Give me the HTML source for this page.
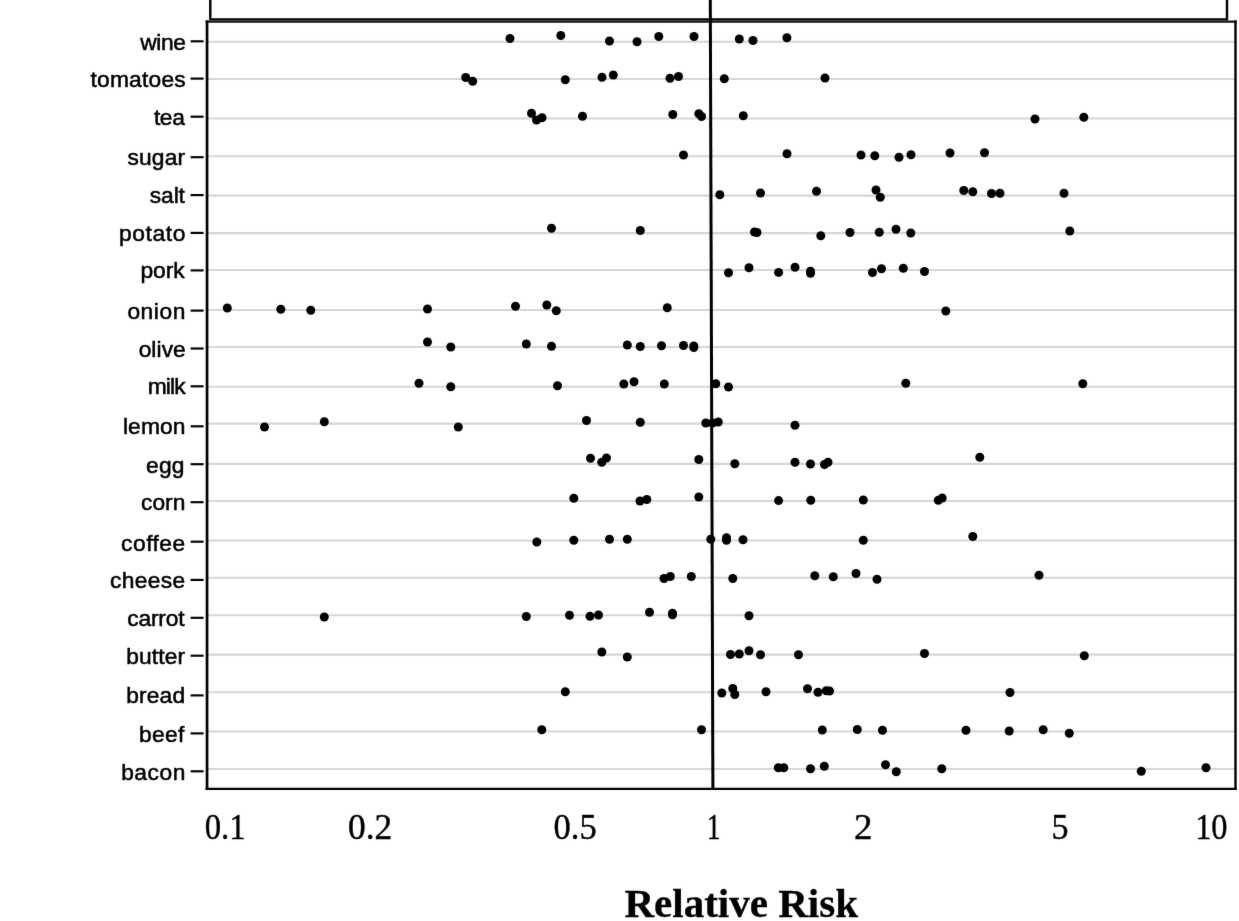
<!DOCTYPE html>
<html lang="en"><head><meta charset="utf-8"><title>Relative Risk</title>
<style>
html,body{margin:0;padding:0;background:#fff;}
body{width:1239px;height:921px;overflow:hidden;}
svg{display:block;}
.yl{font-family:"Liberation Sans",Arial,Helvetica,sans-serif;font-size:21.5px;fill:#000;stroke:#000;stroke-width:0.5px;stroke-linejoin:round;}
.xl{font-family:"Liberation Serif","Times New Roman",serif;font-size:35.5px;fill:#000;stroke:#000;stroke-width:0.4px;}
.ttl{font-family:"Liberation Serif","Times New Roman",serif;font-weight:bold;font-size:41px;fill:#000;stroke:#000;stroke-width:0.3px;}
</style></head>
<body>
<svg width="1239" height="921" viewBox="0 0 1239 921">
<rect x="0" y="0" width="1239" height="921" fill="#fff"/>
<defs><filter id="soft" x="0" y="0" width="1239" height="921" filterUnits="userSpaceOnUse" color-interpolation-filters="sRGB"><feConvolveMatrix order="3" kernelMatrix="0.0052 0.0619 0.0052 0.0619 0.7314 0.0619 0.0052 0.0619 0.0052" divisor="1" edgeMode="duplicate" preserveAlpha="true"/></filter></defs>
<g id="plot" filter="url(#soft)">
<rect x="-10" y="-10" width="1259" height="941" fill="#fff"/>
<g stroke="#d6d6d6" stroke-width="2.1">
<line x1="208" y1="41.8" x2="1235" y2="41.8"/>
<line x1="208" y1="79" x2="1235" y2="79"/>
<line x1="208" y1="118.5" x2="1235" y2="118.5"/>
<line x1="208" y1="156.3" x2="1235" y2="156.3"/>
<line x1="208" y1="195.6" x2="1235" y2="195.6"/>
<line x1="208" y1="233.1" x2="1235" y2="233.1"/>
<line x1="208" y1="270" x2="1235" y2="270"/>
<line x1="208" y1="310" x2="1235" y2="310"/>
<line x1="208" y1="347" x2="1235" y2="347"/>
<line x1="208" y1="386.8" x2="1235" y2="386.8"/>
<line x1="208" y1="423.6" x2="1235" y2="423.6"/>
<line x1="208" y1="463.9" x2="1235" y2="463.9"/>
<line x1="208" y1="501" x2="1235" y2="501"/>
<line x1="208" y1="540.5" x2="1235" y2="540.5"/>
<line x1="208" y1="577.8" x2="1235" y2="577.8"/>
<line x1="208" y1="615.3" x2="1235" y2="615.3"/>
<line x1="208" y1="654.6" x2="1235" y2="654.6"/>
<line x1="208" y1="692.2" x2="1235" y2="692.2"/>
<line x1="208" y1="731.5" x2="1235" y2="731.5"/>
<line x1="208" y1="769" x2="1235" y2="769"/>
</g>
<g fill="none" stroke="#000">
<path d="M210.3 -6 V19.4 H1227 V-6" stroke-width="2.4"/>
<line x1="205.6" y1="21.6" x2="1236.7" y2="21.6" stroke-width="2.4" stroke="#161616"/>
<line x1="207.05" y1="20.4" x2="207.05" y2="789.9" stroke-width="2.7"/>
<line x1="1235.5" y1="20.4" x2="1235.5" y2="789.9" stroke-width="2.4"/>
<line x1="205.6" y1="788.95" x2="1236.7" y2="788.95" stroke-width="2.3"/>
<line x1="710.28" y1="-6" x2="712.9" y2="789" stroke-width="3"/>
</g>
<g stroke="#000" stroke-width="2.15">
<line x1="190.6" y1="41.3" x2="203.6" y2="41.3"/>
<line x1="190.6" y1="78.6" x2="203.6" y2="78.6"/>
<line x1="190.6" y1="116.7" x2="203.6" y2="116.7"/>
<line x1="190.6" y1="157.2" x2="203.6" y2="157.2"/>
<line x1="190.6" y1="195.1" x2="203.6" y2="195.1"/>
<line x1="190.6" y1="232.9" x2="203.6" y2="232.9"/>
<line x1="190.6" y1="270.4" x2="203.6" y2="270.4"/>
<line x1="190.6" y1="310.6" x2="203.6" y2="310.6"/>
<line x1="190.6" y1="348.5" x2="203.6" y2="348.5"/>
<line x1="190.6" y1="386.3" x2="203.6" y2="386.3"/>
<line x1="190.6" y1="426.3" x2="203.6" y2="426.3"/>
<line x1="190.6" y1="464.2" x2="203.6" y2="464.2"/>
<line x1="190.6" y1="502.2" x2="203.6" y2="502.2"/>
<line x1="190.6" y1="541.7" x2="203.6" y2="541.7"/>
<line x1="190.6" y1="579.9" x2="203.6" y2="579.9"/>
<line x1="190.6" y1="617.8" x2="203.6" y2="617.8"/>
<line x1="190.6" y1="655.7" x2="203.6" y2="655.7"/>
<line x1="190.6" y1="695.4" x2="203.6" y2="695.4"/>
<line x1="190.6" y1="733.4" x2="203.6" y2="733.4"/>
<line x1="190.6" y1="771.3" x2="203.6" y2="771.3"/>
</g>
<g class="yl">
<text transform="translate(140.22 50.0) scale(1.06 1)" letter-spacing="-0.389">wine</text>
<text transform="translate(90.50 86.9) scale(1.06 1)" letter-spacing="0.203">tomatoes</text>
<text transform="translate(153.88 124.7) scale(1.06 1)" letter-spacing="-0.321">tea</text>
<text transform="translate(127.47 164.6) scale(1.06 1)" letter-spacing="0.159">sugar</text>
<text transform="translate(149.85 202.8) scale(1.06 1)" letter-spacing="-0.115">salt</text>
<text transform="translate(118.92 240.7) scale(1.06 1)" letter-spacing="0.581">potato</text>
<text transform="translate(140.50 278.1) scale(1.06 1)" letter-spacing="-0.043">pork</text>
<text transform="translate(127.38 318.8) scale(1.06 1)" letter-spacing="0.542">onion</text>
<text transform="translate(138.63 357.0) scale(1.06 1)" letter-spacing="0.069">olive</text>
<text transform="translate(147.76 394.0) scale(1.06 1)" letter-spacing="-0.834">milk</text>
<text transform="translate(122.93 434.4) scale(1.06 1)" letter-spacing="0.126">lemon</text>
<text transform="translate(146.05 472.5) scale(1.06 1)" letter-spacing="0.194">egg</text>
<text transform="translate(141.04 509.9) scale(1.06 1)" letter-spacing="0.008">corn</text>
<text transform="translate(121.12 550.7) scale(1.06 1)" letter-spacing="0.459">coffee</text>
<text transform="translate(110.04 587.5) scale(1.06 1)" letter-spacing="0.326">cheese</text>
<text transform="translate(127.37 625.6) scale(1.06 1)" letter-spacing="-0.203">carrot</text>
<text transform="translate(126.14 663.7) scale(1.06 1)" letter-spacing="0.131">butter</text>
<text transform="translate(126.14 702.9) scale(1.06 1)" letter-spacing="0.160">bread</text>
<text transform="translate(138.89 741.5) scale(1.06 1)" letter-spacing="0.315">beef</text>
<text transform="translate(121.14 779.7) scale(1.06 1)" letter-spacing="0.512">bacon</text>
</g>
<g fill="#000">
<circle cx="510" cy="38.5" r="4.5"/>
<circle cx="560.8" cy="35.5" r="4.5"/>
<circle cx="609.5" cy="41" r="4.5"/>
<circle cx="637" cy="41.8" r="4.5"/>
<circle cx="658.8" cy="36.5" r="4.5"/>
<circle cx="694" cy="36.5" r="4.5"/>
<circle cx="739.3" cy="39" r="4.5"/>
<circle cx="753" cy="40.5" r="4.5"/>
<circle cx="786.9" cy="37.8" r="4.5"/>
<circle cx="465.7" cy="77.5" r="4.5"/>
<circle cx="472.7" cy="81.3" r="4.5"/>
<circle cx="565.3" cy="79.8" r="4.5"/>
<circle cx="602" cy="77.3" r="4.5"/>
<circle cx="613.3" cy="75" r="4.5"/>
<circle cx="670" cy="78.3" r="4.5"/>
<circle cx="678.5" cy="76.5" r="4.5"/>
<circle cx="724.3" cy="78.8" r="4.5"/>
<circle cx="825" cy="78" r="4.5"/>
<circle cx="531.5" cy="113.3" r="4.5"/>
<circle cx="536.5" cy="120" r="4.5"/>
<circle cx="542" cy="117.8" r="4.5"/>
<circle cx="582.5" cy="116.3" r="4.5"/>
<circle cx="672.8" cy="114.5" r="4.5"/>
<circle cx="698.8" cy="113.8" r="4.5"/>
<circle cx="701.5" cy="116.5" r="4.5"/>
<circle cx="743.3" cy="115.8" r="4.5"/>
<circle cx="1035" cy="119" r="4.5"/>
<circle cx="1083.8" cy="117.3" r="4.5"/>
<circle cx="683.5" cy="155" r="4.5"/>
<circle cx="787" cy="153.8" r="4.5"/>
<circle cx="861" cy="155" r="4.5"/>
<circle cx="874.8" cy="155.8" r="4.5"/>
<circle cx="899" cy="157.3" r="4.5"/>
<circle cx="911" cy="154.8" r="4.5"/>
<circle cx="950" cy="153" r="4.5"/>
<circle cx="984.5" cy="152.8" r="4.5"/>
<circle cx="719.8" cy="194.8" r="4.5"/>
<circle cx="760.5" cy="193" r="4.5"/>
<circle cx="816.5" cy="191.3" r="4.5"/>
<circle cx="876" cy="190" r="4.5"/>
<circle cx="880.3" cy="197.3" r="4.5"/>
<circle cx="963.8" cy="190.5" r="4.5"/>
<circle cx="972.8" cy="191.8" r="4.5"/>
<circle cx="991.5" cy="193.5" r="4.5"/>
<circle cx="1000" cy="193.3" r="4.5"/>
<circle cx="1064" cy="193.3" r="4.5"/>
<circle cx="551.5" cy="228.3" r="4.5"/>
<circle cx="640.3" cy="230.5" r="4.5"/>
<circle cx="754.5" cy="232" r="4.5"/>
<circle cx="757" cy="232.5" r="4.5"/>
<circle cx="820.8" cy="235.8" r="4.5"/>
<circle cx="850" cy="232.5" r="4.5"/>
<circle cx="879.3" cy="232.3" r="4.5"/>
<circle cx="896" cy="229.3" r="4.5"/>
<circle cx="910.8" cy="233" r="4.5"/>
<circle cx="1069.8" cy="231" r="4.5"/>
<circle cx="728.5" cy="272.8" r="4.5"/>
<circle cx="749" cy="267.8" r="4.5"/>
<circle cx="778.6" cy="272.4" r="4.5"/>
<circle cx="795" cy="267.3" r="4.5"/>
<circle cx="810.5" cy="271.3" r="4.5"/>
<circle cx="810.5" cy="273.3" r="4.5"/>
<circle cx="872.5" cy="272.5" r="4.5"/>
<circle cx="881.5" cy="268.8" r="4.5"/>
<circle cx="903.3" cy="268.3" r="4.5"/>
<circle cx="924.5" cy="271.5" r="4.5"/>
<circle cx="227.3" cy="308" r="4.5"/>
<circle cx="280.8" cy="309.3" r="4.5"/>
<circle cx="310.8" cy="310.3" r="4.5"/>
<circle cx="427.5" cy="309" r="4.5"/>
<circle cx="515.5" cy="306.3" r="4.5"/>
<circle cx="546.8" cy="305" r="4.5"/>
<circle cx="556.3" cy="310.8" r="4.5"/>
<circle cx="667.3" cy="307.8" r="4.5"/>
<circle cx="945.8" cy="311" r="4.5"/>
<circle cx="427.5" cy="342" r="4.5"/>
<circle cx="450.8" cy="347" r="4.5"/>
<circle cx="526.3" cy="344" r="4.5"/>
<circle cx="551.5" cy="346.3" r="4.5"/>
<circle cx="627.3" cy="345" r="4.5"/>
<circle cx="640.3" cy="346.5" r="4.5"/>
<circle cx="661.5" cy="345.8" r="4.5"/>
<circle cx="683.5" cy="345.5" r="4.5"/>
<circle cx="693.8" cy="346" r="4.5"/>
<circle cx="693.8" cy="347.5" r="4.5"/>
<circle cx="419" cy="383.3" r="4.5"/>
<circle cx="450.8" cy="386.8" r="4.5"/>
<circle cx="557.5" cy="385.8" r="4.5"/>
<circle cx="623.8" cy="384" r="4.5"/>
<circle cx="634" cy="381.8" r="4.5"/>
<circle cx="664.3" cy="384" r="4.5"/>
<circle cx="715.8" cy="383.8" r="4.5"/>
<circle cx="728.5" cy="387" r="4.5"/>
<circle cx="905.8" cy="383.3" r="4.5"/>
<circle cx="1082.8" cy="383.8" r="4.5"/>
<circle cx="264.5" cy="427" r="4.5"/>
<circle cx="324.3" cy="421.8" r="4.5"/>
<circle cx="458.3" cy="427" r="4.5"/>
<circle cx="586.5" cy="420.5" r="4.5"/>
<circle cx="640.3" cy="422.3" r="4.5"/>
<circle cx="705.8" cy="423" r="4.5"/>
<circle cx="712.5" cy="423" r="4.5"/>
<circle cx="718.3" cy="422" r="4.5"/>
<circle cx="795" cy="425.3" r="4.5"/>
<circle cx="590.5" cy="458.3" r="4.5"/>
<circle cx="601.8" cy="462.3" r="4.5"/>
<circle cx="606.5" cy="458" r="4.5"/>
<circle cx="698.8" cy="459.5" r="4.5"/>
<circle cx="734.8" cy="463.8" r="4.5"/>
<circle cx="795" cy="462.3" r="4.5"/>
<circle cx="810.5" cy="464" r="4.5"/>
<circle cx="824.5" cy="464.5" r="4.5"/>
<circle cx="828" cy="462.3" r="4.5"/>
<circle cx="979.8" cy="457.3" r="4.5"/>
<circle cx="573.8" cy="498.3" r="4.5"/>
<circle cx="640" cy="501" r="4.5"/>
<circle cx="646.8" cy="499.5" r="4.5"/>
<circle cx="698.8" cy="497" r="4.5"/>
<circle cx="778.6" cy="500.6" r="4.5"/>
<circle cx="810.8" cy="500.3" r="4.5"/>
<circle cx="863.3" cy="500" r="4.5"/>
<circle cx="938.3" cy="500.3" r="4.5"/>
<circle cx="942.2" cy="498" r="4.5"/>
<circle cx="536.8" cy="542" r="4.5"/>
<circle cx="573.8" cy="540.3" r="4.5"/>
<circle cx="609.5" cy="539.3" r="4.5"/>
<circle cx="627.3" cy="539.3" r="4.5"/>
<circle cx="710.8" cy="539.3" r="4.5"/>
<circle cx="726.5" cy="537.8" r="4.5"/>
<circle cx="726.5" cy="540.3" r="4.5"/>
<circle cx="743" cy="539.8" r="4.5"/>
<circle cx="863.3" cy="540.3" r="4.5"/>
<circle cx="972.8" cy="536.5" r="4.5"/>
<circle cx="664" cy="578.5" r="4.5"/>
<circle cx="670.3" cy="576.5" r="4.5"/>
<circle cx="691.3" cy="576.5" r="4.5"/>
<circle cx="732.8" cy="578.5" r="4.5"/>
<circle cx="814.8" cy="575.8" r="4.5"/>
<circle cx="833.3" cy="576.8" r="4.5"/>
<circle cx="856" cy="573.5" r="4.5"/>
<circle cx="877" cy="579.3" r="4.5"/>
<circle cx="1039" cy="575.2" r="4.5"/>
<circle cx="324.3" cy="617" r="4.5"/>
<circle cx="526.3" cy="616.5" r="4.5"/>
<circle cx="569.5" cy="615.3" r="4.5"/>
<circle cx="590" cy="616.3" r="4.5"/>
<circle cx="598.5" cy="615" r="4.5"/>
<circle cx="649.5" cy="612.3" r="4.5"/>
<circle cx="672.5" cy="613.3" r="4.5"/>
<circle cx="672.5" cy="614.8" r="4.5"/>
<circle cx="749" cy="615.8" r="4.5"/>
<circle cx="601.8" cy="652" r="4.5"/>
<circle cx="627.3" cy="657" r="4.5"/>
<circle cx="730.5" cy="654.5" r="4.5"/>
<circle cx="739.3" cy="654" r="4.5"/>
<circle cx="749" cy="650.8" r="4.5"/>
<circle cx="760.5" cy="654.8" r="4.5"/>
<circle cx="798.5" cy="654.8" r="4.5"/>
<circle cx="924.5" cy="653.5" r="4.5"/>
<circle cx="1084.3" cy="655.8" r="4.5"/>
<circle cx="565.3" cy="691.8" r="4.5"/>
<circle cx="721.8" cy="693" r="4.5"/>
<circle cx="732.8" cy="688.5" r="4.5"/>
<circle cx="734.8" cy="694.5" r="4.5"/>
<circle cx="766" cy="691.8" r="4.5"/>
<circle cx="807.5" cy="688.8" r="4.5"/>
<circle cx="818" cy="692.3" r="4.5"/>
<circle cx="826.3" cy="690.8" r="4.5"/>
<circle cx="829.5" cy="691" r="4.5"/>
<circle cx="1010" cy="692.5" r="4.5"/>
<circle cx="541.8" cy="729.8" r="4.5"/>
<circle cx="701.5" cy="729.8" r="4.5"/>
<circle cx="822.3" cy="730" r="4.5"/>
<circle cx="857.3" cy="729.5" r="4.5"/>
<circle cx="882.5" cy="730.3" r="4.5"/>
<circle cx="966" cy="730.3" r="4.5"/>
<circle cx="1009.2" cy="731" r="4.5"/>
<circle cx="1043.2" cy="729.8" r="4.5"/>
<circle cx="1069.3" cy="733.3" r="4.5"/>
<circle cx="778.3" cy="767.8" r="4.5"/>
<circle cx="783.8" cy="767.8" r="4.5"/>
<circle cx="810.5" cy="768.8" r="4.5"/>
<circle cx="824.3" cy="766.3" r="4.5"/>
<circle cx="885.5" cy="764.8" r="4.5"/>
<circle cx="896.3" cy="771.8" r="4.5"/>
<circle cx="941.8" cy="768.8" r="4.5"/>
<circle cx="1141.3" cy="771.3" r="4.5"/>
<circle cx="1206" cy="767.8" r="4.5"/>
</g>
<g class="xl">
<text transform="translate(204.65 838.8) scale(0.922 1)" letter-spacing="0.000">0.1</text>
<text transform="translate(348.10 838.8) scale(0.996 1)" letter-spacing="0.000">0.2</text>
<text transform="translate(553.58 838.8) scale(0.970 1)" letter-spacing="0.000">0.5</text>
<text transform="translate(706.80 838.8) scale(0.777 1)" letter-spacing="0.000">1</text>
<text transform="translate(854.01 838.8) scale(1.040 1)" letter-spacing="0.000">2</text>
<text transform="translate(1051.53 838.8) scale(0.958 1)" letter-spacing="0.000">5</text>
<text transform="translate(1195.15 838.8) scale(0.913 1)" letter-spacing="0.000">10</text>
</g>
<text class="ttl" x="624.5" y="916.5">Relative Risk</text>
</g>
</svg>
</body></html>
